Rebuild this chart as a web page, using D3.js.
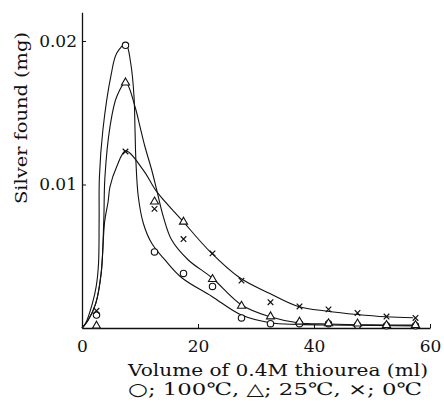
<!DOCTYPE html>
<html><head><meta charset="utf-8">
<script src="https://cdn.jsdelivr.net/npm/d3@7"></script>
<style>
html,body{margin:0;padding:0;background:#fff;}
svg{display:block;}
text{font-family:"DejaVu Serif","Liberation Serif",serif;fill:#111;}
</style></head>
<body>
<svg id="c" width="444" height="413"></svg>
<script>
// measured points (x = ml thiourea, y = mg silver)
const xPts = [2.5, 7.5, 12.5, 17.5, 22.5, 27.5, 32.5, 37.5, 42.5, 47.5, 52.5, 57.5];
const circle100 = [0.0009, 0.0197, 0.0053, 0.0038, 0.0029, 0.0007, 0.0003, 0.0003, 0.0003, 0.0002, 0.00015, 0.00015];
const tri25 = [0.00015, 0.0171, 0.0088, 0.0074, 0.0034, 0.00154, 0.0008, 0.00043, 0.00032, 0.0003, 0.0002, 0.0002];
const cross0 = [0.0012, 0.0123, 0.0083, 0.0062, 0.0052, 0.0033, 0.0018, 0.0015, 0.0013, 0.00105, 0.0008, 0.0007];

// hand-drawn fitted curves
const circleCurveX = [0, 0.64, 1.78, 2.45, 2.85, 2.95, 3.0, 3.6, 5.0, 5.98, 7.55, 8.4, 8.97, 9.14, 9.31, 9.71, 10.57, 12.02, 14.31, 17.2, 22.4, 27.5, 32.4, 37.2, 45, 57.5];
const circleCurveY = [0, 0.00034, 0.0017, 0.0029, 0.0045, 0.0074, 0.0105, 0.0138, 0.0176, 0.01914, 0.0198, 0.01845, 0.01612, 0.0138, 0.0115, 0.00915, 0.0073, 0.0059, 0.00474, 0.0035, 0.0022, 0.0009, 0.00037, 0.00025, 0.0002, 0.00015];
const triCurveX = [0, 1.0, 2.36, 3.3, 3.75, 3.95, 4.83, 5.98, 7.55, 9.14, 10.0, 10.86, 12.02, 12.88, 14.02, 15.47, 18.33, 22.4, 27.5, 32.4, 37.2, 42.5, 50, 57.5];
const triCurveY = [0, 0.0005, 0.0017, 0.0038, 0.0074, 0.0105, 0.01403, 0.01612, 0.0171, 0.01542, 0.01403, 0.01263, 0.01101, 0.00962, 0.00776, 0.00613, 0.00474, 0.0035, 0.0016, 0.00078, 0.00037, 0.00028, 0.00022, 0.0002];
const crossCurveX = [0, 1.0, 2.36, 3.3, 3.9, 4.5, 4.83, 5.98, 7.55, 10.57, 12.88, 17.19, 22.07, 27.2, 32.4, 37.3, 42.3, 47.4, 52.4, 57.1];
const crossCurveY = [0, 0.0005, 0.0017, 0.0038, 0.0074, 0.0088, 0.00985, 0.01124, 0.01234, 0.0110, 0.0095, 0.00753, 0.00532, 0.0035, 0.0024, 0.0015, 0.00117, 0.00094, 0.00078, 0.00071];

const xTicks = [0, 20, 40, 60];
const yTicks = [0.01, 0.02];
const xTitle = "Volume of 0.4M thiourea (ml)";
const yTitle = "Silver found (mg)";
const legendText = "○; 100℃, △; 25℃, ×; 0℃";

const svg = d3.select("#c");
const x = d3.scaleLinear().domain([0, 60]).range([82, 430]);
const y = d3.scaleLinear().domain([0, 0.022]).range([328, 12.3]);

// axes
const xa = svg.append("g").attr("transform", "translate(0,328)")
  .call(d3.axisBottom(x).tickValues(xTicks).tickSize(-4).tickSizeOuter(0).tickPadding(12).tickFormat(d3.format("d")));
const ya = svg.append("g").attr("transform", "translate(82,0)")
  .call(d3.axisLeft(y).tickValues(yTicks).tickSize(-4).tickSizeOuter(0).tickPadding(5).tickFormat(d3.format(".2f")));
[xa, ya].forEach(g => {
  g.select(".domain").attr("stroke", "#111").attr("stroke-width", 1.3);
  g.selectAll(".tick line").attr("stroke", "#111");
  g.selectAll(".tick text").attr("font-size", 17).attr("font-family", '"DejaVu Serif","Liberation Serif",serif').attr("fill", "#111");
});
xa.selectAll(".tick").filter(d => d === 0).select("line").remove();

// curves
const line = d3.line().x(d => x(d[0])).y(d => y(d[1])).curve(d3.curveCatmullRom.alpha(0.5));
[[circleCurveX, circleCurveY], [triCurveX, triCurveY], [crossCurveX, crossCurveY]].forEach(([cx, cy]) => {
  svg.append("path").attr("d", line(cx.map((v, i) => [v, cy[i]])))
    .attr("fill", "none").attr("stroke", "#111").attr("stroke-width", 1.1);
});

// markers
svg.append("g").selectAll("circle").data(xPts.map((v, i) => [v, circle100[i]])).join("circle")
  .attr("cx", d => x(d[0])).attr("cy", d => y(d[1])).attr("r", 3.2)
  .attr("fill", "#fff").attr("stroke", "#111").attr("stroke-width", 1.1);
const tri = d3.symbol().type(d3.symbolTriangle).size(28);
svg.append("g").selectAll("path").data(xPts.map((v, i) => [v, tri25[i]])).join("path")
  .attr("d", tri).attr("transform", d => `translate(${x(d[0])},${y(d[1])})`)
  .attr("fill", "#fff").attr("stroke", "#111").attr("stroke-width", 1.1);
const crs = d3.symbol().type(d3.symbolTimes).size(22);
svg.append("g").selectAll("path").data(xPts.map((v, i) => [v, cross0[i]])).join("path")
  .attr("d", crs).attr("transform", d => `translate(${x(d[0])},${y(d[1])})`)
  .attr("fill", "none").attr("stroke", "#111").attr("stroke-width", 1.2);

// titles
svg.append("text").attr("x", 128).attr("y", 376).attr("font-size", 17)
  .attr("textLength", 300).attr("lengthAdjust", "spacingAndGlyphs").text(xTitle);
svg.append("text").attr("x", 128).attr("y", 395).attr("font-size", 17)
  .attr("textLength", 294).attr("lengthAdjust", "spacingAndGlyphs").text(legendText);
svg.append("text").attr("transform", "translate(27,118) rotate(-90)").attr("text-anchor", "middle")
  .attr("font-size", 17).attr("textLength", 172).attr("lengthAdjust", "spacingAndGlyphs").text(yTitle);
</script>
</body></html>
